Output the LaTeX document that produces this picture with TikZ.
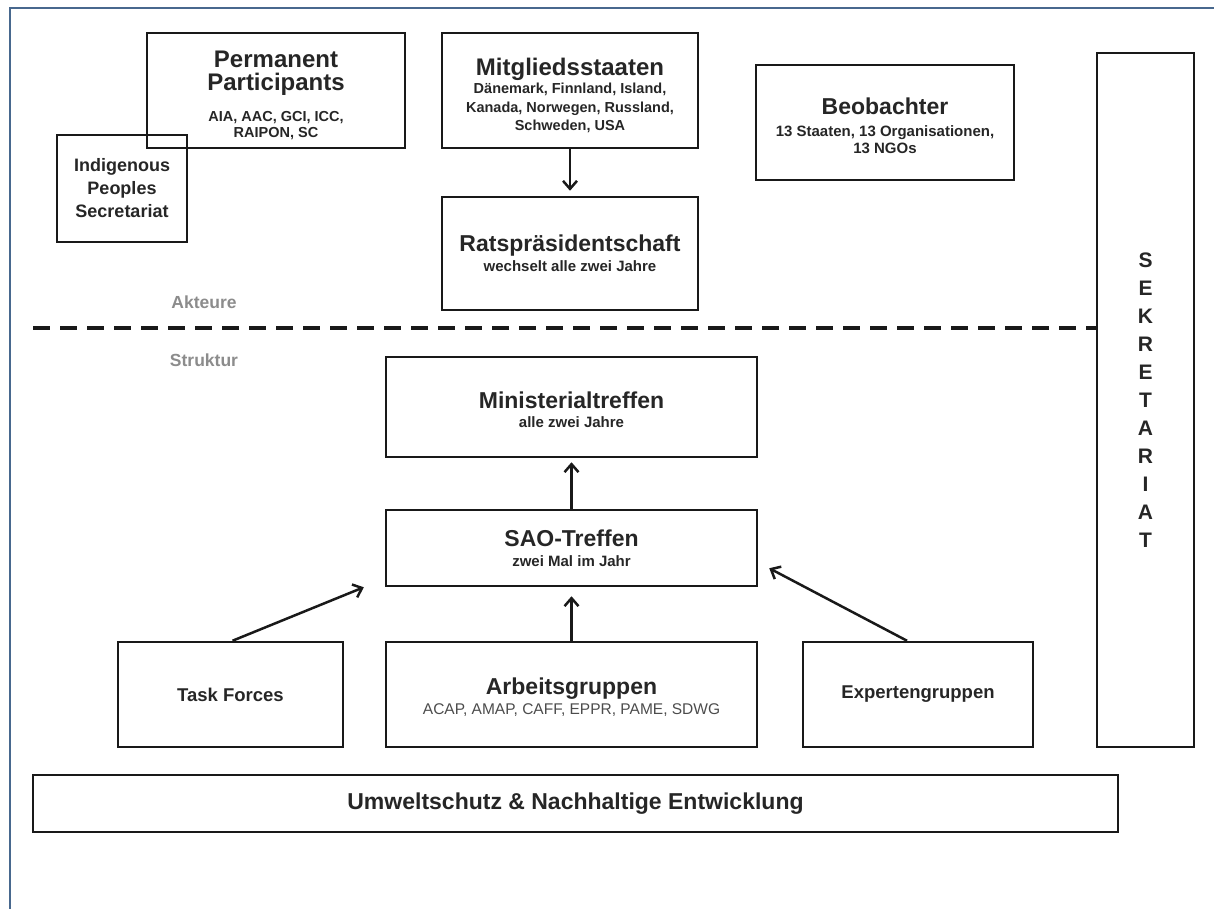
\documentclass[tikz,border=0pt]{standalone}
\usepackage{fontspec}
\setmainfont{Liberation Sans}
\usepackage{tikz}
\usetikzlibrary{arrows.meta}
\definecolor{rahmen}{RGB}{72,104,142}
\newcommand{\gross}{\fontsize{23}{24}\selectfont\bfseries}
\newcommand{\klein}{\fontsize{15}{19}\selectfont\bfseries}

\begin{document}
\begin{tikzpicture}[x=1pt,y=-1pt,
  box/.style={draw=black!90,line width=2.5pt,align=center,inner sep=0pt,text=black!85},
  pfeil/.style={draw=black!90,line width=2.5pt,-{Straight Barb[length=8pt,width=14pt]}},
  grau/.style={text=black!45,font=\fontsize{17.5}{20}\selectfont\bfseries}]
\useasboundingbox (0,0) rectangle (1214,909);
\draw [rahmen,line width=2.5pt] (10,909) -- (10,8) -- (1214,8);

\node [box,minimum width=258pt,minimum height=115pt,font=\fontsize{14.5}{16.5}\selectfont\bfseries] (pp) at (276,90.5)
  {{\fontsize{24}{24}\selectfont\rule{0pt}{26pt}Permanent}\\[5pt]{\fontsize{24}{24}\selectfont Participants}\\[14pt]AIA, AAC, GCI, ICC,\\RAIPON, SC};
\node [box,minimum width=130pt,minimum height=107pt,font=\fontsize{18}{23}\selectfont\bfseries] (ips) at (122,188.5)
  {Indigenous\\Peoples\\Secretariat};
\node [box,minimum width=256pt,minimum height=115pt,font=\fontsize{14.5}{18.5}\selectfont\bfseries] (mit) at (570,90.5)
  {{\fontsize{24}{24}\selectfont\rule{0pt}{27pt}Mitgliedsstaaten}\\Dänemark, Finnland, Island,\\Kanada, Norwegen, Russland,\\Schweden, USA};
\node [box,minimum width=256pt,minimum height=113pt,font=\klein] (rat) at (570,253.5)
  {{\gross Ratspräsidentschaft}\\[1pt]wechselt alle zwei Jahre};
\node [box,minimum width=258pt,minimum height=115pt,font=\fontsize{15}{16.5}\selectfont\bfseries] (beo) at (885,122.5)
  {{\gross\rule{0pt}{23.5pt}Beobachter}\\[5.5pt]13 Staaten, 13 Organisationen,\\13 NGOs};
\node [box,minimum width=97pt,minimum height=694pt,font=\fontsize{21}{28}\selectfont\bfseries] (sek) at (1145.5,400)
  {S\\E\\K\\R\\E\\T\\A\\R\\I\\A\\T};

\node [grau] (akt) at (204,302) {Akteure};
\node [grau] (str) at (204,360) {Struktur};
\coordinate (lk) at (33,328);
\draw [black!90,line width=4pt,dash pattern=on 17pt off 10pt] (lk) -- (lk -| sek.west);

\node [box,minimum width=371pt,minimum height=100pt,font=\klein] (min) at (571.5,407)
  {{\gross\rule{0pt}{22.5pt}Ministerialtreffen}\\alle zwei Jahre};
\node [box,minimum width=371pt,minimum height=76pt,font=\klein] (sao) at (571.5,548)
  {{\gross SAO-Treffen}\\[1pt]zwei Mal im Jahr};
\node [box,minimum width=225pt,minimum height=105pt,font=\fontsize{18.5}{20}\selectfont\bfseries] (tf) at (230.5,694.5)
  {Task Forces};
\node [box,minimum width=371pt,minimum height=105pt,font=\fontsize{15.5}{20}\selectfont] (ag) at (571.5,694.5)
  {{\gross\rule{0pt}{22pt}Arbeitsgruppen}\\{\color{black!70}ACAP, AMAP, CAFF, EPPR, PAME, SDWG}};
\node [box,minimum width=230pt,minimum height=105pt,font=\fontsize{18.5}{20}\selectfont\bfseries] (eg) at (918,694.5)
  {Expertengruppen};
\node [box,minimum width=1085pt,minimum height=57pt,font=\gross] (uw) at (575.5,803.5)
  {Umweltschutz \& Nachhaltige Entwicklung};

\draw [pfeil,shorten >=5pt] (mit) -- (rat);
\draw [pfeil,shorten >=4pt] (sao) -- (min);
\draw [pfeil,shorten >=9pt] (ag) -- (sao);
\draw [pfeil] ([xshift=2pt]tf.north) -- ([xshift=-21pt]sao.south west);
\draw [pfeil] ([xshift=-11pt]eg.north) -- ([xshift=11pt,yshift=19pt]sao.south east);
\end{tikzpicture}
\end{document}
